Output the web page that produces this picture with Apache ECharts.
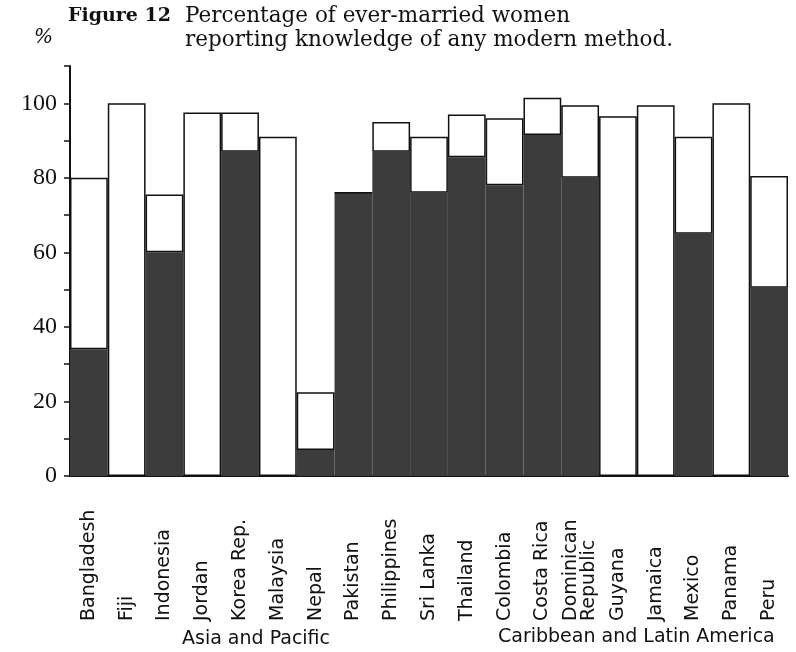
<!DOCTYPE html>
<html>
<head>
<meta charset="utf-8">
<script src="https://cdn.jsdelivr.net/npm/echarts@6/dist/echarts.min.js"></script>
<style>
    html, body { margin: 0; padding: 0; background: #fff; }
    #chart { width: 796px; height: 652px; }
</style>
</head>
<body>
<div id="chart"></div>
<script>
// countries, left to right
const countries = [
    'Bangladesh', 'Fiji', 'Indonesia', 'Jordan', 'Korea Rep.', 'Malaysia', 'Nepal',
    'Pakistan', 'Philippines', 'Sri Lanka', 'Thailand', 'Colombia', 'Costa Rica',
    'Dominican\nRepublic', 'Guyana', 'Jamaica', 'Mexico', 'Panama', 'Peru'
]
// shaded part of each bar
const shadedPart = [34, 0, 60, 0, 87, 0, 7, 76, 87, 76, 85.5, 78, 91.5, 80, 0, 0, 65, 0, 50.5]
// open part stacked on top
const openPart = [46, 100, 15.5, 97.5, 10.5, 91, 15.5, 0, 8, 15, 11.5, 18, 10, 19.5, 96.5, 99.5, 26, 100, 30]
const yTicks = [0, 20, 40, 60, 80, 100]

const sans = 'DejaVu Sans'

const chart = echarts.init(document.getElementById('chart'))

const option = {
    animation: false,
    grid: {
        left: 70,
        right: 8,
        top: 66,
        bottom: 176
    },
    xAxis: {
        type: 'category',
        data: countries,
        axisLine: { lineStyle: { color: '#111', width: 2 } },
        axisTick: { show: false },
        axisLabel: {
            interval: 0,
            rotate: 90,
            align: 'left',
            verticalAlign: 'middle',
            margin: 145,
            color: '#111',
            fontFamily: sans,
            fontSize: 19,
            lineHeight: 18
        }
    },
    yAxis: {
        type: 'value',
        min: 0,
        max: 110,
        interval: 10,
        splitLine: { show: false },
        axisLine: { show: true, lineStyle: { color: '#111', width: 2 } },
        axisTick: { show: true, length: 6, lineStyle: { color: '#111', width: 1.5 } },
        axisLabel: {
            margin: 13,
            color: '#111',
            fontFamily: 'Liberation Serif',
            fontSize: 24,
            formatter: v => (yTicks.indexOf(v) >= 0 ? String(v) : '')
        }
    },
    series: [
        {
            name: 'shaded',
            type: 'bar',
            stack: 'k',
            barCategoryGap: 0,
            data: shadedPart,
            itemStyle: { color: '#3c3c3c', borderColor: '#3c3c3c', borderWidth: 0 }
        },
        {
            name: 'open',
            type: 'bar',
            stack: 'k',
            barCategoryGap: 0,
            data: openPart,
            itemStyle: { color: '#fff', borderColor: '#111', borderWidth: 1.5 }
        }
    ],
    graphic: [
        {
            type: 'text', left: 68, top: 7,
            style: { text: 'Figure 12', font: 'bold 19px "DejaVu Serif"', fill: '#111' }
        },
        {
            type: 'text', left: 185, top: 5,
            style: { text: 'Percentage of ever-married women', font: '21.5px "DejaVu Serif"', fill: '#111' }
        },
        {
            type: 'text', left: 185, top: 29,
            style: { text: 'reporting knowledge of any modern method.', font: '21.5px "DejaVu Serif"', fill: '#111' }
        },
        {
            type: 'text', left: 34, top: 28,
            style: { text: '%', font: 'italic 20px "DejaVu Serif"', fill: '#111' }
        },
        {
            type: 'text', left: 182, top: 630,
            style: { text: 'Asia and Pacific', font: '19px "DejaVu Sans"', fill: '#111' }
        },
        {
            type: 'text', left: 498, top: 628,
            style: { text: 'Caribbean and Latin America', font: '19px "DejaVu Sans"', fill: '#111' }
        }
    ]
}

chart.setOption(option)
</script>
</body>
</html>
